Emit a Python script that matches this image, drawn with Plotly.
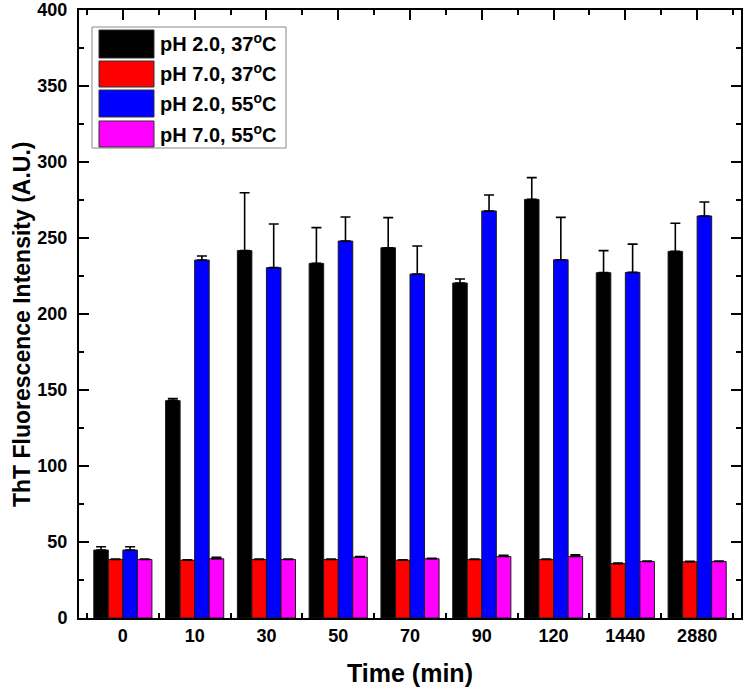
import plotly.graph_objects as go

categories = ["0", "10", "30", "50", "70", "90", "120", "1440", "2880"]
series_names = ["pH 2.0, 37<sup>o</sup>C", "pH 7.0, 37<sup>o</sup>C",
                "pH 2.0, 55<sup>o</sup>C", "pH 7.0, 55<sup>o</sup>C"]
colors = ["#000000", "#FF0000", "#0000FF", "#FF00FF"]

ph2_37 = [44.7, 143.0, 241.7, 233.3, 243.6, 220.4, 275.4, 227.2, 241.2]
ph7_37 = [38.5, 38.0, 38.5, 38.5, 38.0, 38.5, 38.5, 35.8, 37.0]
ph2_55 = [44.7, 235.5, 230.5, 248.0, 226.3, 267.8, 235.7, 227.4, 264.5]
ph7_55 = [38.5, 39.0, 38.5, 40.0, 39.0, 40.5, 40.5, 37.2, 37.2]

ph2_37_err = [2.2, 1.3, 38.1, 23.5, 19.8, 2.6, 14.3, 14.5, 18.5]
ph7_37_err = [0.3, 0.3, 0.3, 0.3, 0.3, 0.3, 0.3, 0.3, 0.3]
ph2_55_err = [2.2, 2.7, 28.7, 15.8, 18.4, 10.5, 27.9, 18.6, 9.2]
ph7_55_err = [0.3, 1.0, 0.3, 0.5, 0.3, 0.8, 1.0, 0.3, 0.3]

values = [ph2_37, ph7_37, ph2_55, ph7_55]
errors = [ph2_37_err, ph7_37_err, ph2_55_err, ph7_55_err]

x_title = "Time (min)"
y_title = "ThT Fluorescence Intensity (A.U.)"

FONT = "Arial, Liberation Sans, sans-serif"
x_pos = list(range(len(categories)))

fig = go.Figure()
for name, vals, errs, col in zip(series_names, values, errors, colors):
    fig.add_trace(go.Bar(
        x=x_pos, y=vals, name=name,
        marker=dict(color=col, line=dict(color="#1a1a1a", width=1)),
        error_y=dict(type="data", symmetric=False, array=errs,
                     arrayminus=[0] * len(errs), color="black",
                     thickness=1.6, width=5),
        showlegend=False,
    ))

# plot area in pixels
L, R, T, B = 79, 741, 10, 618
W_PX, H_PX = 745, 690


def px(xp):
    return (xp - L) / (R - L)


def py(yp):
    return (B - yp) / (B - T)


shapes = [dict(type="rect", xref="paper", yref="paper",
               x0=px(92), x1=px(286), y0=py(148), y1=py(27),
               line=dict(color="#888888", width=1), fillcolor="white")]
annotations = []
rows = [(30, 58), (61, 87), (90, 117), (121, 147)]
for (y0, y1), col, name in zip(rows, colors, series_names):
    shapes.append(dict(type="rect", xref="paper", yref="paper",
                       x0=px(99), x1=px(154), y0=py(y1), y1=py(y0),
                       line=dict(color="#333333", width=1), fillcolor=col))
    annotations.append(dict(xref="paper", yref="paper", x=px(158),
                            y=py((y0 + y1) / 2 - 1), text=name, showarrow=False,
                            xanchor="left", yanchor="middle",
                            font=dict(family=FONT, size=20, color="black",
                                      weight="bold")))

# y-axis title placed as a rotated annotation
annotations.append(dict(xref="paper", yref="paper", x=px(22), y=py(324),
                        text=y_title, textangle=-90, showarrow=False,
                        xanchor="center", yanchor="middle",
                        font=dict(family=FONT, size=23, color="black",
                                  weight="bold")))

fig.update_layout(
    width=W_PX, height=H_PX,
    margin=dict(l=L, r=W_PX - R, t=T, b=H_PX - B, autoexpand=False),
    paper_bgcolor="white", plot_bgcolor="white",
    barmode="group", bargap=0.19, bargroupgap=0,
    font=dict(family=FONT, color="black"),
    shapes=shapes, annotations=annotations,
    showlegend=False,
)
fig.update_xaxes(
    range=[-0.611, 8.611], tickvals=x_pos, ticktext=categories,
    ticks="inside", ticklen=10, tickwidth=2, tickcolor="black",
    minor=dict(ticks="inside", tick0=-0.5, dtick=1, ticklen=5,
               tickwidth=2, tickcolor="black"),
    showline=True, linecolor="black", linewidth=2, mirror="ticks",
    showgrid=False, zeroline=False, layer="below traces", automargin=False,
    ticklabeloverflow="allow",
    tickfont=dict(family=FONT, size=18, color="black", weight="bold"),
    title=dict(text=x_title, standoff=20,
               font=dict(family=FONT, size=25, color="black", weight="bold")),
)
fig.update_yaxes(
    range=[0, 400], tickvals=[0, 50, 100, 150, 200, 250, 300, 350, 400],
    ticks="inside", ticklen=10, tickwidth=2, tickcolor="black",
    minor=dict(ticks="inside", tick0=0, dtick=25, ticklen=5,
               tickwidth=2, tickcolor="black"),
    showline=True, linecolor="black", linewidth=2, mirror="ticks",
    showgrid=False, zeroline=False, layer="below traces", automargin=False,
    ticklabeloverflow="allow", ticklabelstandoff=6,
    tickfont=dict(family=FONT, size=18, color="black", weight="bold"),
)

fig.write_html("out.html",
               config={"displayModeBar": False},
               post_script="document.body.style.margin='0px';"
                           "document.body.style.overflow='hidden';")
